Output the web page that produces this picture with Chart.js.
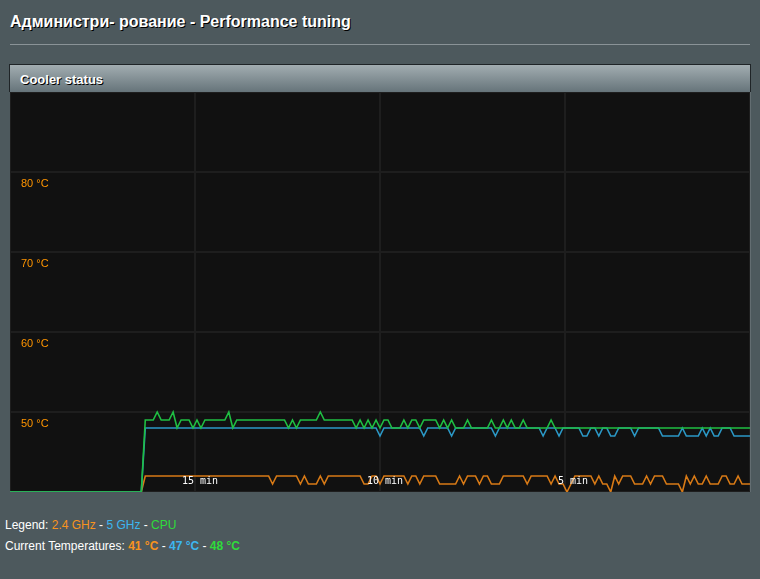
<!DOCTYPE html>
<html lang="ru">
<head>
    <meta charset="UTF-8">
    <title>Performance tuning</title>
    <script src="https://cdn.jsdelivr.net/npm/chart.js@4.4.0/dist/chart.umd.min.js"></script>
    <style>
        body {
            margin: 0;
            width: 760px;
            height: 579px;
            position: relative;
            overflow: hidden;
            background: #4d595d;
            color: #fff;
            font-family: Arial, "Liberation Sans", sans-serif;
        }
        .page-title {
            position: absolute;
            left: 10px;
            top: 13px;
            font-size: 16px;
            font-weight: bold;
            text-shadow: 1px 1px 0 #000;
            white-space: nowrap;
        }
        .split-line {
            position: absolute;
            left: 10px;
            top: 44px;
            width: 740px;
            height: 1px;
            background: #8a9397;
        }
        .panel-head {
            position: absolute;
            left: 9px;
            top: 64px;
            width: 740px;
            height: 27px;
            border: 1px solid #1f2427;
            border-bottom: none;
            background: linear-gradient(#a2adb1, #66747a);
        }
        .panel-head span {
            position: absolute;
            left: 10px;
            top: 7px;
            font-size: 13px;
            font-weight: bold;
            text-shadow: 1px 1px 0 #000;
        }
        .plot {
            position: absolute;
            left: 10px;
            top: 92px;
            width: 740px;
            height: 400px;
            background: #111;
            border-right: 1px solid #636d71;
        }
        .info {
            position: absolute;
            left: 5px;
            font-size: 12px;
            white-space: nowrap;
        }
        .c24 { color: #f7931e; }
        .c5 { color: #3cb6f0; }
        .ccpu { color: #2fdc3a; }
    </style>
</head>
<body>

    <div class="page-title">Администри- рование - Performance tuning</div>
    <div class="split-line"></div>

    <!-- Cooler status panel -->
    <div class="panel-head"><span>Cooler status</span></div>
    <div class="plot">
        <canvas id="tempChart" width="740" height="400"></canvas>
    </div>

    <div class="info" style="top:518px;">Legend: <span class="c24">2.4 GHz</span> - <span class="c5">5 GHz</span> - <span class="ccpu">CPU</span></div>
    <div class="info" style="top:539px;">Current Temperatures: <b class="c24">41 °C</b> - <b class="c5">47 °C</b> - <b class="ccpu">48 °C</b></div>

    <script>
        // last 20 minutes, oldest sample first
        const windowMinutes = 20;

        const temp24 = [
            40, 40, 40, 40, 40, 40, 40, 40, 40, 40,
            40, 40, 40, 40, 40, 40, 40, 40, 40, 40,
            40, 40, 40, 40, 40, 40, 40, 40, 40, 40,
            40, 40, 40, 40, 42, 42, 42, 42, 42, 42,
            42, 42, 42, 42, 42, 42, 42, 42, 42, 42,
            42, 42, 42, 42, 42, 42, 42, 42, 42, 42,
            42, 42, 42, 42, 42, 42, 41, 42, 42, 42,
            42, 42, 42, 41, 42, 41, 41, 41, 42, 41,
            42, 42, 42, 42, 42, 42, 42, 42, 42, 41,
            41, 42, 42, 41, 42, 42, 42, 42, 42, 42,
            41, 42, 42, 41, 42, 42, 42, 42, 41, 41,
            41, 41, 41, 42, 41, 42, 42, 42, 41, 42,
            42, 41, 41, 41, 42, 42, 42, 42, 42, 42,
            41, 42, 42, 42, 42, 42, 41, 42, 41, 41,
            40, 41, 42, 42, 42, 42, 42, 41, 42, 41,
            41, 40, 42, 41, 42, 42, 42, 41, 41, 41,
            42, 41, 42, 42, 42, 41, 41, 41, 41, 40,
            42, 41, 42, 41, 41, 42, 41, 41, 41, 42,
            42, 41, 41, 42, 41, 41, 41
        ];

        const temp5 = [
            40, 40, 40, 40, 40, 40, 40, 40, 40, 40,
            40, 40, 40, 40, 40, 40, 40, 40, 40, 40,
            40, 40, 40, 40, 40, 40, 40, 40, 40, 40,
            40, 40, 40, 40, 48, 48, 48, 48, 48, 48,
            48, 48, 48, 48, 48, 48, 48, 48, 48, 48,
            48, 48, 48, 48, 48, 48, 48, 48, 48, 48,
            48, 48, 48, 48, 48, 48, 48, 48, 48, 48,
            48, 48, 48, 48, 48, 48, 48, 48, 48, 48,
            48, 48, 48, 48, 48, 48, 48, 48, 48, 48,
            48, 48, 48, 47, 48, 48, 48, 48, 48, 48,
            48, 48, 48, 48, 47, 48, 48, 48, 48, 48,
            48, 47, 48, 48, 48, 48, 48, 48, 48, 48,
            48, 48, 47, 48, 48, 48, 48, 48, 48, 48,
            48, 48, 48, 48, 47, 48, 48, 48, 47, 48,
            48, 48, 48, 48, 47, 47, 48, 48, 47, 48,
            48, 47, 47, 48, 48, 48, 48, 47, 48, 48,
            48, 48, 48, 48, 47, 47, 47, 47, 47, 48,
            47, 47, 47, 47, 48, 47, 48, 47, 47, 48,
            48, 48, 47, 47, 47, 47, 47
        ];

        const tempCpu = [
            40, 40, 40, 40, 40, 40, 40, 40, 40, 40,
            40, 40, 40, 40, 40, 40, 40, 40, 40, 40,
            40, 40, 40, 40, 40, 40, 40, 40, 40, 40,
            40, 40, 40, 40, 49, 49, 49, 50, 49, 49,
            49, 50, 48, 49, 49, 49, 48, 49, 48, 49,
            49, 49, 49, 49, 49, 50, 48, 49, 49, 49,
            49, 49, 49, 49, 49, 49, 49, 49, 49, 49,
            48, 49, 48, 49, 49, 49, 49, 49, 50, 49,
            49, 49, 49, 49, 49, 49, 49, 48, 49, 48,
            49, 48, 49, 48, 49, 49, 48, 48, 48, 49,
            48, 49, 49, 48, 49, 49, 49, 49, 48, 49,
            48, 49, 48, 48, 48, 49, 48, 48, 48, 48,
            48, 49, 48, 48, 49, 48, 49, 48, 48, 49,
            48, 48, 48, 48, 48, 48, 49, 48, 48, 48,
            48, 48, 48, 48, 48, 48, 48, 48, 48, 48,
            48, 48, 48, 48, 48, 48, 48, 48, 48, 48,
            48, 48, 48, 48, 48, 48, 48, 48, 48, 48,
            48, 48, 48, 48, 48, 48, 48, 48, 48, 48,
            48, 48, 48, 48, 48, 48, 48
        ];

        const yTicks = [50, 60, 70, 80];   // °C labels shown inside the plot
        const xTicks = [15, 10, 5];        // minutes ago

        // sample time of each point, in minutes before now
        const minutesAgo = tempCpu.map((_, i) => windowMinutes * (tempCpu.length - 1 - i) / (tempCpu.length - 1));
        const toPoints = arr => arr.map((v, i) => ({ x: minutesAgo[i], y: v }));

        // labels are drawn inside the plot area, like the router page does
        const insideLabels = {
            id: 'insideLabels',
            beforeDatasetsDraw(chart) {
                const { ctx, chartArea, scales } = chart;
                ctx.save();
                ctx.font = '11px Arial, "Liberation Sans", sans-serif';
                ctx.fillStyle = '#ff9500';
                ctx.textAlign = 'left';
                ctx.textBaseline = 'middle';
                yTicks.forEach(t => {
                    ctx.fillText(t + ' °C', chartArea.left + 11, scales.y.getPixelForValue(t) + 12);
                });
                ctx.restore();
            },
            afterDatasetsDraw(chart) {
                const { ctx, chartArea, scales } = chart;
                ctx.save();
                ctx.font = '10px "DejaVu Sans Mono", monospace';
                ctx.fillStyle = '#ffffff';
                ctx.textAlign = 'right';
                ctx.textBaseline = 'middle';
                xTicks.forEach(m => {
                    ctx.fillText(m + ' min', scales.x.getPixelForValue(m) + 23, chartArea.bottom - 11);
                });
                ctx.restore();
            }
        };

        const gridStyle = { color: '#1e1e1e', lineWidth: 2, drawTicks: false };

        new Chart(document.getElementById('tempChart'), {
            type: 'line',
            data: {
                datasets: [{
                    label: '2.4 GHz',
                    data: toPoints(temp24),
                    borderColor: '#d87a16',
                    order: 3
                }, {
                    label: '5 GHz',
                    data: toPoints(temp5),
                    borderColor: '#2b98c6',
                    order: 2
                }, {
                    label: 'CPU',
                    data: toPoints(tempCpu),
                    borderColor: '#1fbf43',
                    order: 1
                }]
            },
            options: {
                responsive: false,
                animation: false,
                layout: { padding: 0 },
                elements: {
                    line: { borderWidth: 1.6, tension: 0 },
                    point: { radius: 0 }
                },
                plugins: {
                    legend: { display: false },
                    tooltip: { enabled: false }
                },
                scales: {
                    x: {
                        type: 'linear',
                        reverse: true,
                        min: 0,
                        max: windowMinutes,
                        ticks: { display: false, stepSize: 5 },
                        grid: gridStyle,
                        border: { display: false }
                    },
                    y: {
                        min: 40,
                        max: 90,
                        ticks: { display: false, stepSize: 10 },
                        grid: gridStyle,
                        border: { display: false }
                    }
                }
            },
            plugins: [insideLabels]
        });
    </script>
</body>
</html>
